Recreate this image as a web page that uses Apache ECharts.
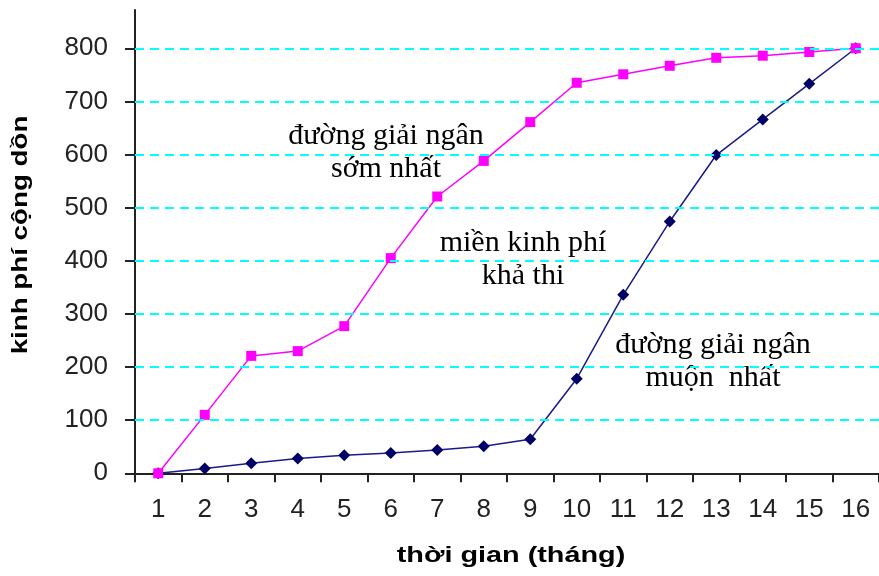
<!DOCTYPE html>
<html>
<head>
<meta charset="utf-8">
<script src="https://cdn.jsdelivr.net/npm/echarts@6/dist/echarts.min.js"></script>
<style>
html,body{margin:0;padding:0;background:#fff;}
#c{width:879px;height:576px;}
</style>
</head>
<body>
<div id="c"></div>
<script>
const months = ['1','2','3','4','5','6','7','8','9','10','11','12','13','14','15','16'];
const earliest = [0, 110, 221, 230, 277, 405, 521, 588, 661, 735, 751, 767, 782, 786, 793, 800];
const latest = [0, 9, 19, 28, 34, 38, 44, 51, 64, 178, 336, 474, 599, 666, 733, 800];
const yTicks = [0, 100, 200, 300, 400, 500, 600, 700, 800];
const xTitle = 'thời gian (tháng)';
const yTitle = 'kinh phí cộng dồn';
const notes = [
  ['đường giải ngân', 'sớm nhất'],
  ['miền kinh phí', 'khả thi'],
  ['đường giải ngân', 'muộn  nhất']
];

const chart = echarts.init(document.getElementById('c'), null, {renderer: 'canvas'});
const serif = '"Liberation Serif", "Times New Roman", serif';
const sans = '"Liberation Sans", Arial, sans-serif';

function noteGroup(lines, cx, baseline) {
  return lines.map((t, i) => ({
    type: 'text', x: cx, y: baseline + i * 33 - 9,
    style: {text: t, font: '30px ' + serif, fill: '#000', textAlign: 'center', textVerticalAlign: 'middle'}
  }));
}

chart.setOption({
  animation: false,
  backgroundColor: '#ffffff',
  grid: {left: 135, top: 10, height: 463.3, width: 751.2, containLabel: false},
  xAxis: {
    type: 'category',
    data: months,
    boundaryGap: true,
    axisLine: {lineStyle: {color: '#222', width: 2}},
    axisTick: {show: true, length: 9, lineStyle: {color: '#222', width: 2}},
    axisLabel: {color: '#222', fontFamily: sans, fontSize: 26, margin: 24},
    splitLine: {show: false}
  },
  yAxis: {
    type: 'value',
    min: 0, max: 872,
    axisLine: {show: true, lineStyle: {color: '#222', width: 2}},
    axisTick: {show: true, length: 10, customValues: yTicks, lineStyle: {color: '#222', width: 2}},
    axisLabel: {color: '#222', fontFamily: sans, fontSize: 26, margin: 27, customValues: yTicks},
    splitLine: {show: false}
  },
  series: [
    {
      name: 'muộn nhất', type: 'line', data: latest,
      symbol: 'path://M0,-1 L1,0 L0,1 L-1,0 Z', symbolSize: 12,
      lineStyle: {color: '#1a1a8c', width: 1.5},
      itemStyle: {color: '#000066'},
      z: 3,
      markLine: {
        silent: true, symbol: ['none', 'none'], label: {show: false},
        lineStyle: {color: '#00FFFF', width: 2, type: [9, 6]},
        data: yTicks.filter(v => v > 0).map(v => ({yAxis: v}))
      }
    },
    {
      name: 'sớm nhất', type: 'line', data: earliest,
      symbol: 'rect', symbolSize: 10,
      lineStyle: {color: '#FF00FF', width: 1.5},
      itemStyle: {color: '#FF00FF'},
      z: 4
    }
  ],
  graphic: [
    {type: 'text', x: 511, y: 556, scaleX: 1.31,
     style: {text: xTitle, font: 'bold 22px ' + sans, fill: '#000', textAlign: 'center', textVerticalAlign: 'middle'}},
    {type: 'text', x: 21, y: 235, rotation: Math.PI / 2, scaleX: 1.26,
     style: {text: yTitle, font: 'bold 22px ' + sans, fill: '#000', textAlign: 'center', textVerticalAlign: 'middle'}},
    ...noteGroup(notes[0], 386, 145),
    ...noteGroup(notes[1], 523, 252),
    ...noteGroup(notes[2], 713, 354)
  ]
});
</script>
</body>
</html>
